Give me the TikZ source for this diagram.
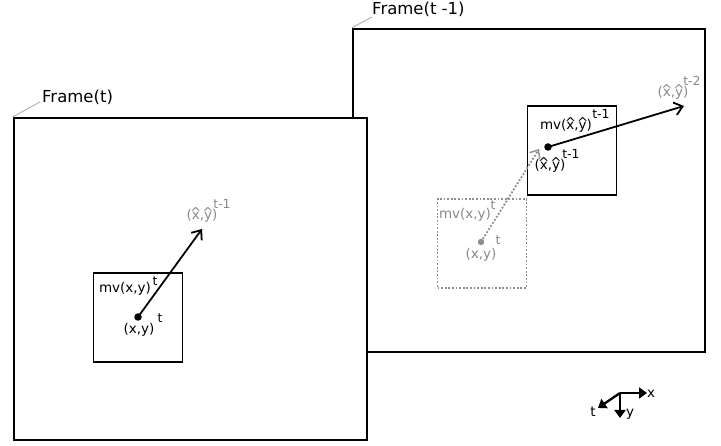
\documentclass[tikz,border=0pt]{standalone}
\usepackage{fontspec}
\setmainfont{DejaVu Sans}
\usetikzlibrary{arrows.meta}
\definecolor{lblgray}{HTML}{8A8A8A}
\definecolor{dotgray}{HTML}{8F8F8F}
\newcommand{\hatted}[1]{\leavevmode\setbox0=\hbox{#1}\hbox to \wd0{\hss\raisebox{0.16em}[0pt][0pt]{\char"005E}\hss}\kern-\wd0\box0}
\tikzset{
  frame/.style={draw=black, line width=2.3pt, fill=white, inner sep=0pt},
  blk/.style={draw=black, line width=1.8pt, inner sep=0pt, minimum width=89pt, minimum height=89pt},
  ghostblk/.style={draw=dotgray, line width=1.8pt, dash pattern=on 1.8pt off 1.8pt, inner sep=0pt, minimum width=89pt, minimum height=89pt},
  lead/.style={draw=lblgray!70, line width=0.9pt},
  flabel/.style={inner sep=0pt, font=\fontsize{16.5}{18}\selectfont},
  ilabel/.style={inner sep=0pt, font=\fontsize{13.5}{15}\selectfont},
  slabel/.style={inner sep=0pt, font=\fontsize{12.5}{14}\selectfont},
  mvarrow/.style={line width=1.8pt, -{Straight Barb[length=8pt,width=13pt,line width=1.8pt]}},
  axarrow/.style={line width=2.3pt, -{Triangle[length=8pt,width=11pt]}},
  pt/.style={circle, fill=black, inner sep=0pt, minimum size=7.5pt},
}
\begin{document}
\begin{tikzpicture}[x=1pt,y=-1pt]
\useasboundingbox (0,0) rectangle (721,446);
% frame t-1
\node[frame, minimum width=352pt, minimum height=323pt] (f1) at (529,190.5) {};
\coordinate (f1lead) at (372,17);
\draw[lead] (f1.north west) -- (f1lead);
\node[flabel, anchor=west] (f1lbl) at (372,9) {Frame(t -1)};
% ghost block in frame t-1
\node[ghostblk] (gb) at (482,243.5) {};
\node[pt, fill=dotgray, minimum size=6.5pt] (gdot) at (481,242) {};
\node[ilabel, text=lblgray] (gmv) at (465,215) {mv(x,y)};
\node[slabel, text=lblgray] (gmvs) at (493,205) {t};
\node[ilabel, text=lblgray] (gxy) at (481,255) {(x,y)};
\node[slabel, text=lblgray] (gxys) at (498,240) {t};
% block t-1
\node[blk] (b1) at (572,150.5) {};
\node[pt] (d1) at (548,147) {};
\node[ilabel] (mv1) at (566,126) {mv(\hatted{x},\hatted{y})};
\node[slabel] (mv1s) at (601,114) {t-1};
\node[ilabel] (xy1) at (550,166) {(\hatted{x},\hatted{y})};
\node[slabel] (xy1s) at (571,154) {t-1};
\node[ilabel, text=lblgray] (p2) at (673,93) {(\hatted{x},\hatted{y})};
\node[slabel, text=lblgray] (p2s) at (692,81) {t-2};
\coordinate (p2tip) at (684,106);
\draw[mvarrow] (d1.center) -- (p2tip);
\coordinate (gtip) at (539,149);
\draw[line width=1.8pt, dash pattern=on 1.8pt off 1.8pt, draw=dotgray, -{Straight Barb[length=7pt,width=12pt,line width=1.4pt]}] (gdot.center) -- (gtip);
% frame t
\node[frame, minimum width=353pt, minimum height=322pt] (f0) at (190.5,279) {};
\coordinate (f0lead) at (40,102);
\draw[lead] (f0.north west) -- (f0lead);
\node[flabel, anchor=west] (f0lbl) at (42,97) {Frame(t)};
% block t
\node[blk] (b0) at (138,317.5) {};
\node[pt] (d0) at (138,317) {};
\node[ilabel] (mv0) at (125,289) {mv(x,y)};
\node[slabel] (mv0s) at (155,281) {t};
\node[ilabel] (xy0) at (139,330) {(x,y)};
\node[slabel] (xy0s) at (160,318) {t};
\node[ilabel, text=lblgray] (p1) at (202,216) {(\hatted{x},\hatted{y})};
\node[slabel, text=lblgray] (p1s) at (222,204) {t-1};
\coordinate (p1tip) at (202,229);
\draw[mvarrow] (d0.center) -- (p1tip);
% axes
\coordinate (o) at (620,393);
\coordinate (ax) at (647,393);
\coordinate (ay) at (620,418);
\coordinate (at) at (598,408);
\draw[axarrow] (o) -- (ax);
\draw[axarrow] (o) -- (ay);
\draw[axarrow] (o) -- (at);
\node[ilabel] (lx) at (651,394) {x};
\node[ilabel] (ly) at (630,414) {y};
\node[ilabel] (lt) at (593,412) {t};
\end{tikzpicture}
\end{document}
